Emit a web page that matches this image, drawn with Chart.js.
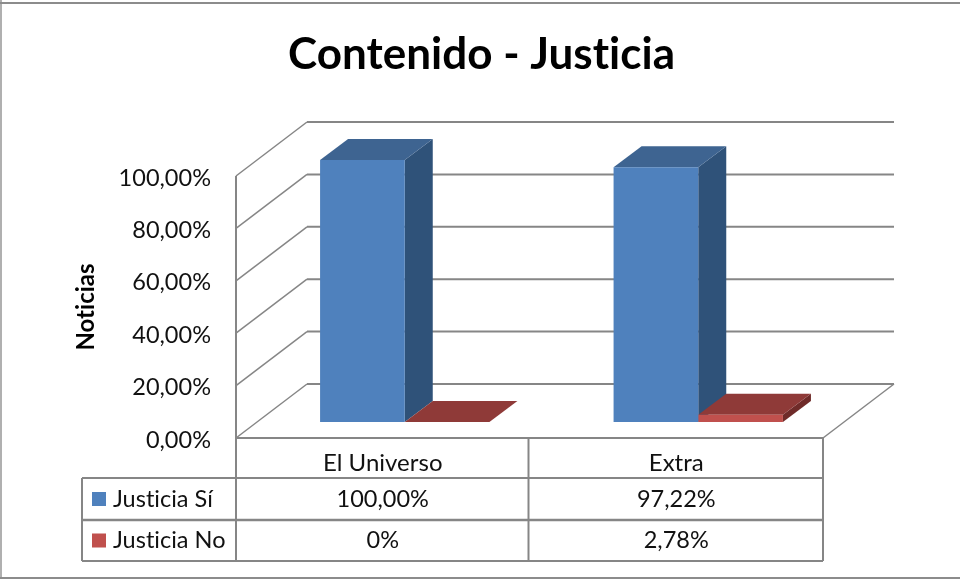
<!DOCTYPE html>
<html>
<head>
<meta charset="utf-8">
<style>html,body{margin:0;padding:0;background:#fff}#w{position:relative;width:960px;height:579px}</style>
<script src="https://cdn.jsdelivr.net/npm/chart.js@4"></script>
</head>
<body>
<div id="w"><canvas id="c" width="960" height="579"></canvas></div>
<script>
const categories = ['El Universo', 'Extra'];
const seriesNames = ['Justicia Sí', 'Justicia No'];
const justiciaSi = [100, 97.22];
const justiciaNo = [0, 2.78];
const rowSi = ['100,00%', '97,22%'];
const rowNo = ['0%', '2,78%'];
const yTicks = ['0,00%', '20,00%', '40,00%', '60,00%', '80,00%', '100,00%'];

const FONT = 'Lato, "Open Sans", sans-serif';
const GRID = '#868686';
const wall = {dx: 71, dy: -54};
const depth = {dx: 28, dy: -21};
const shift = {x: 22, y: -16};
const faces = [{top: '#3e6491', side: '#2f5279'}, {top: '#8f3a38', side: '#6f2b29'}];

function line(ctx, x1, y1, x2, y2, w, c) {
  ctx.beginPath(); ctx.moveTo(x1, y1); ctx.lineTo(x2, y2);
  ctx.lineWidth = w; ctx.strokeStyle = c || GRID; ctx.stroke();
}
function poly(ctx, pts, color) {
  ctx.beginPath(); pts.forEach((p, i) => i ? ctx.lineTo(p[0], p[1]) : ctx.moveTo(p[0], p[1]));
  ctx.closePath(); ctx.fillStyle = color; ctx.fill();
}

const walls = {
  id: 'walls',
  beforeDraw(chart) {
    // plain glyphs: no "ti" ligature
    chart.ctx.letterSpacing = '0.01px';
  },
  beforeDatasetsDraw(chart) {
    const {ctx, chartArea: a, scales: {y}} = chart;
    ctx.save();
    y.ticks.forEach(t => {
      const py = y.getPixelForValue(t.value);
      line(ctx, a.left, py, a.left + wall.dx, py + wall.dy, 1.5);
      line(ctx, a.left + wall.dx, py + wall.dy, a.right + wall.dx, py + wall.dy, 2);
    });
    const py0 = y.getPixelForValue(0);
    line(ctx, a.left, py0, a.right, py0, 2);
    line(ctx, a.right, py0, a.right + wall.dx, py0 + wall.dy, 1.5);
    ctx.restore();
    // 3D faces, then the bars themselves, sit on a plane set back from the front edge
    ctx.save();
    ctx.translate(shift.x, shift.y);
    chart.data.datasets.forEach((ds, di) => {
      chart.getDatasetMeta(di).data.forEach(b => {
        const l = b.x - b.width / 2, r = b.x + b.width / 2, t = b.y, bt = b.base;
        const f = faces[di];
        if (bt - t > 0.5) {
          poly(ctx, [[r, t], [r + depth.dx, t + depth.dy], [r + depth.dx, bt + depth.dy], [r, bt]], f.side);
        }
        poly(ctx, [[l, t], [l + depth.dx, t + depth.dy], [r + depth.dx, t + depth.dy], [r, t]], f.top);
      });
    });
  },
  afterDatasetsDraw(chart) { chart.ctx.restore(); }
};

const table = {
  id: 'table',
  afterDraw(chart) {
    const {ctx, chartArea: a, scales: {x}, width, height} = chart;
    const rowY = [a.bottom, a.bottom + 40, a.bottom + 82, a.bottom + 123];
    const tableLeft = 82, mid = (x.getPixelForValue(0) + x.getPixelForValue(1)) / 2 - 1;
    ctx.save();
    // outer frame
    line(ctx, 1, 0, 1, height, 2, '#b0b0b0');
    line(ctx, 0, height - 1, width, height - 1, 2, '#8c8c8c');
    line(ctx, 0, 3, width, 3, 2, '#8c8c8c');
    // table grid
    line(ctx, a.left, a.top, a.left, rowY[3], 2);
    line(ctx, mid, rowY[0], mid, rowY[3], 2);
    line(ctx, a.right, rowY[0], a.right, rowY[3], 2);
    line(ctx, tableLeft, rowY[1], a.right, rowY[1], 2);
    line(ctx, tableLeft, rowY[2], a.right, rowY[2], 2.4);
    line(ctx, tableLeft, rowY[3], a.right, rowY[3], 2);
    line(ctx, tableLeft, rowY[1], tableLeft, rowY[3], 2);
    // rows
    const rows = [rowSi, rowNo];
    const colors = chart.data.datasets.map(d => d.backgroundColor);
    ctx.textBaseline = 'middle';
    rows.forEach((vals, r) => {
      const cy = (rowY[r + 1] + rowY[r + 2]) / 2;
      ctx.fillStyle = colors[r];
      ctx.fillRect(tableLeft + 10, cy - 7, 14, 14);
      ctx.fillStyle = '#111';
      ctx.font = '23.5px ' + FONT;
      ctx.textAlign = 'left';
      ctx.fillText(seriesNames[r], tableLeft + 31, cy);
      ctx.textAlign = 'center';
      vals.forEach((v, i) => ctx.fillText(v, x.getPixelForValue(i), cy));
    });
    ctx.restore();
  }
};

new Chart(document.getElementById('c'), {
  type: 'bar',
  data: {
    labels: categories,
    datasets: [
      {label: seriesNames[0], data: justiciaSi, backgroundColor: '#4f81bd', clip: false},
      {label: seriesNames[1], data: justiciaNo, backgroundColor: '#c0504d', clip: false}
    ]
  },
  options: {
    responsive: false,
    animation: false,
    layout: {padding: {left: 3, right: 0, top: 0, bottom: 0}},
    categoryPercentage: 0.577,
    barPercentage: 1,
    plugins: {
      legend: {display: false},
      tooltip: {enabled: false},
      title: {
        display: true,
        text: 'Contenido - Justicia',
        color: '#000',
        font: {family: FONT, size: 44, weight: 'bold', lineHeight: 1.2},
        padding: {top: 28.6, bottom: 94.6}
      }
    },
    scales: {
      x: {
        grid: {display: false, drawTicks: false},
        border: {display: false},
        ticks: {color: '#111', font: {family: FONT, size: 24}, padding: 11},
        afterFit(s) { s.height = 141; }
      },
      y: {
        min: 0, max: 100,
        grid: {display: false, drawTicks: false},
        border: {display: false},
        ticks: {
          stepSize: 20, color: '#111', padding: 25, labelOffset: 2,
          font: {family: FONT, size: 23.5},
          callback: (v) => yTicks[v / 20]
        },
        title: {
          display: true, text: 'Noticias', color: '#000',
          font: {family: FONT, size: 24, weight: 'bold'},
          padding: {top: 69, bottom: 0}
        },
        afterFit(s) { s.width = 233; }
      },
      spacer: {
        position: 'right',
        display: true,
        grid: {display: false, drawTicks: false},
        border: {display: false},
        ticks: {display: false},
        afterFit(s) { s.width = 137; }
      }
    }
  },
  plugins: [walls, table]
});
</script>
</body>
</html>
